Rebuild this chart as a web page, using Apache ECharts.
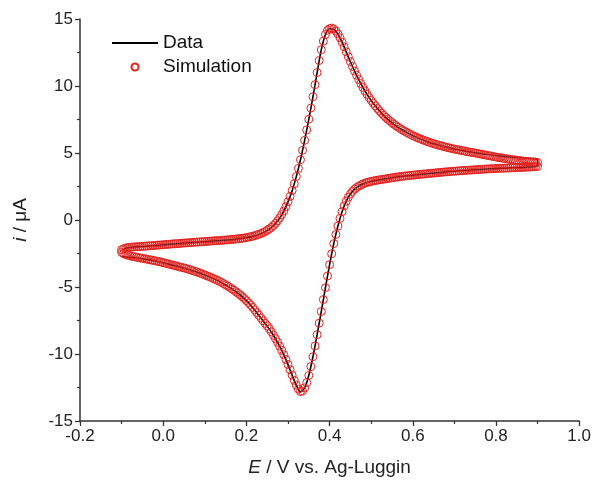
<!DOCTYPE html>
<html><head><meta charset="utf-8">
<script src="https://cdn.jsdelivr.net/npm/echarts@6/dist/echarts.min.js"></script>
<style>html,body{margin:0;padding:0;background:#fff}#c{width:594px;height:483px}</style>
</head><body><div id="c"></div>
<script>
// Potential grid of the simulated points (V vs. Ag-Luggin)
const simPotential = [
-0.1,-0.095,-0.09,-0.085,-0.08,-0.075,-0.07,-0.065,-0.06,-0.055,
-0.05,-0.045,-0.04,-0.035,-0.03,-0.025,-0.02,-0.015,-0.01,-0.005,
0,0.005,0.01,0.015,0.02,0.025,0.03,0.035,0.04,0.045,
0.05,0.055,0.06,0.065,0.07,0.075,0.08,0.085,0.09,0.095,
0.1,0.105,0.11,0.115,0.12,0.125,0.13,0.135,0.14,0.145,
0.15,0.155,0.16,0.165,0.17,0.175,0.18,0.185,0.19,0.195,
0.2,0.205,0.21,0.215,0.22,0.225,0.23,0.235,0.24,0.245,
0.25,0.255,0.26,0.265,0.27,0.275,0.28,0.285,0.29,0.295,
0.3,0.305,0.31,0.315,0.32,0.325,0.33,0.335,0.34,0.345,
0.35,0.355,0.36,0.365,0.37,0.375,0.38,0.385,0.39,0.395,
0.4,0.405,0.41,0.415,0.42,0.425,0.43,0.435,0.44,0.445,
0.45,0.455,0.46,0.465,0.47,0.475,0.48,0.485,0.49,0.495,
0.5,0.505,0.51,0.515,0.52,0.525,0.53,0.535,0.54,0.545,
0.55,0.555,0.56,0.565,0.57,0.575,0.58,0.585,0.59,0.595,
0.6,0.605,0.61,0.615,0.62,0.625,0.63,0.635,0.64,0.645,
0.65,0.655,0.66,0.665,0.67,0.675,0.68,0.685,0.69,0.695,
0.7,0.705,0.71,0.715,0.72,0.725,0.73,0.735,0.74,0.745,
0.75,0.755,0.76,0.765,0.77,0.775,0.78,0.785,0.79,0.795,
0.8,0.805,0.81,0.815,0.82,0.825,0.83,0.835,0.84,0.845,
0.85,0.855,0.86,0.865,0.87,0.875,0.88,0.885,0.89,0.895,
0.9];
// Simulation, forward (anodic) sweep, current in µA at each simPotential
const simForward = [
-2.22,-2.14,-2.09,-2.06,-2.04,-2.02,-2.01,-2.00,-1.99,-1.98,
-1.97,-1.96,-1.94,-1.93,-1.92,-1.91,-1.90,-1.88,-1.87,-1.86,
-1.85,-1.83,-1.82,-1.81,-1.79,-1.78,-1.77,-1.76,-1.75,-1.73,
-1.72,-1.71,-1.70,-1.69,-1.68,-1.66,-1.65,-1.64,-1.63,-1.62,
-1.61,-1.60,-1.58,-1.57,-1.56,-1.55,-1.54,-1.53,-1.52,-1.51,
-1.49,-1.48,-1.47,-1.45,-1.44,-1.42,-1.40,-1.38,-1.36,-1.34,
-1.31,-1.28,-1.25,-1.21,-1.17,-1.12,-1.07,-1.01,-0.94,-0.86,
-0.77,-0.67,-0.55,-0.41,-0.25,-0.06,0.15,0.40,0.68,1.00,
1.36,1.76,2.20,2.70,3.25,3.85,4.50,5.20,5.95,6.72,
7.52,8.35,9.20,10.10,11.00,11.90,12.70,13.35,13.85,14.15,
14.28,14.32,14.25,14.10,13.88,13.60,13.28,12.92,12.55,12.18,
11.82,11.46,11.12,10.80,10.48,10.18,9.90,9.63,9.38,9.14,
8.92,8.71,8.51,8.32,8.14,7.97,7.81,7.66,7.52,7.39,
7.26,7.14,7.03,6.92,6.82,6.72,6.63,6.54,6.46,6.38,
6.30,6.23,6.16,6.09,6.03,5.97,5.91,5.85,5.80,5.75,
5.70,5.65,5.60,5.56,5.52,5.48,5.44,5.40,5.36,5.33,
5.29,5.26,5.23,5.20,5.17,5.14,5.11,5.08,5.05,5.03,
5.00,4.97,4.94,4.91,4.88,4.85,4.82,4.79,4.76,4.73,
4.70,4.67,4.65,4.62,4.60,4.57,4.55,4.52,4.50,4.48,
4.46,4.44,4.42,4.40,4.38,4.36,4.35,4.33,4.32,4.30,
4.29];
// Simulation, reverse (cathodic) sweep, listed at ascending simPotential
const simReverse = [
-2.42,-2.51,-2.58,-2.63,-2.67,-2.71,-2.74,-2.77,-2.80,-2.83,
-2.86,-2.89,-2.92,-2.95,-2.98,-3.01,-3.04,-3.07,-3.11,-3.14,
-3.18,-3.22,-3.26,-3.30,-3.34,-3.38,-3.42,-3.46,-3.50,-3.54,
-3.58,-3.62,-3.67,-3.72,-3.77,-3.82,-3.87,-3.92,-3.98,-4.04,
-4.10,-4.16,-4.22,-4.29,-4.36,-4.43,-4.50,-4.58,-4.66,-4.75,
-4.84,-4.93,-5.03,-5.13,-5.24,-5.35,-5.47,-5.59,-5.72,-5.86,
-6.01,-6.17,-6.34,-6.52,-6.71,-6.91,-7.11,-7.31,-7.51,-7.71,
-7.91,-8.12,-8.35,-8.60,-8.86,-9.13,-9.42,-9.73,-10.06,-10.41,
-10.78,-11.17,-11.57,-11.96,-12.32,-12.62,-12.80,-12.76,-12.53,-12.14,
-11.60,-10.94,-10.20,-9.40,-8.56,-7.70,-6.83,-5.94,-5.05,-4.18,
-3.33,-2.52,-1.76,-1.08,-0.45,0.12,0.62,1.05,1.40,1.70,
1.94,2.14,2.30,2.42,2.52,2.61,2.68,2.75,2.80,2.84,
2.88,2.91,2.94,2.97,3.00,3.02,3.05,3.07,3.10,3.12,
3.15,3.17,3.20,3.22,3.24,3.26,3.28,3.30,3.31,3.33,
3.35,3.36,3.38,3.40,3.41,3.43,3.44,3.46,3.47,3.49,
3.50,3.52,3.53,3.55,3.56,3.58,3.59,3.60,3.62,3.63,
3.64,3.65,3.67,3.68,3.69,3.70,3.71,3.72,3.73,3.74,
3.75,3.76,3.77,3.78,3.79,3.80,3.81,3.82,3.83,3.83,
3.84,3.85,3.86,3.86,3.87,3.88,3.88,3.89,3.90,3.90,
3.91,3.92,3.92,3.93,3.94,3.94,3.95,3.96,3.97,3.98,
4.00];
// Measured data potential grid
const dataPotential = [
-0.1,-0.09,-0.08,-0.07,-0.06,-0.05,-0.04,-0.03,-0.02,-0.01,
0,0.01,0.02,0.03,0.04,0.05,0.06,0.07,0.08,0.09,
0.1,0.11,0.12,0.13,0.14,0.15,0.16,0.17,0.18,0.19,
0.2,0.21,0.22,0.23,0.24,0.25,0.26,0.27,0.28,0.29,
0.3,0.31,0.32,0.33,0.34,0.35,0.36,0.37,0.38,0.39,
0.4,0.41,0.42,0.43,0.44,0.45,0.46,0.47,0.48,0.49,
0.5,0.51,0.52,0.53,0.54,0.55,0.56,0.57,0.58,0.59,
0.6,0.61,0.62,0.63,0.64,0.65,0.66,0.67,0.68,0.69,
0.7,0.71,0.72,0.73,0.74,0.75,0.76,0.77,0.78,0.79,
0.8,0.81,0.82,0.83,0.84,0.85,0.86,0.87,0.88,0.89,
0.9];
const dataForward = [
-2.28,-2.10,-2.05,-2.02,-2.00,-1.98,-1.95,-1.93,-1.91,-1.88,
-1.86,-1.83,-1.80,-1.78,-1.76,-1.73,-1.71,-1.69,-1.66,-1.64,
-1.62,-1.59,-1.57,-1.55,-1.53,-1.50,-1.48,-1.45,-1.41,-1.37,
-1.32,-1.26,-1.18,-1.08,-0.95,-0.78,-0.56,-0.26,0.14,0.67,
1.35,2.19,3.24,4.49,5.94,7.51,9.19,10.99,12.69,13.84,
14.27,14.24,13.87,13.27,12.54,11.81,11.11,10.47,9.89,9.37,
8.91,8.50,8.13,7.80,7.51,7.25,7.02,6.81,6.62,6.45,
6.29,6.15,6.02,5.90,5.79,5.69,5.60,5.52,5.44,5.37,
5.30,5.24,5.18,5.12,5.07,5.02,4.98,4.93,4.89,4.85,
4.81,4.77,4.74,4.71,4.68,4.66,4.64,4.62,4.60,4.58,
4.57];
const dataReverse = [
-2.72,-2.76,-2.79,-2.82,-2.85,-2.89,-2.94,-2.99,-3.05,-3.12,
-3.19,-3.27,-3.35,-3.43,-3.51,-3.59,-3.68,-3.78,-3.88,-3.99,
-4.11,-4.23,-4.37,-4.51,-4.67,-4.85,-5.04,-5.25,-5.48,-5.73,
-6.02,-6.35,-6.72,-7.12,-7.52,-7.92,-8.36,-8.87,-9.43,-10.07,
-10.79,-11.58,-12.34,-12.82,-12.53,-11.60,-10.20,-8.56,-6.83,-5.05,
-3.33,-1.76,-0.45,0.62,1.40,1.94,2.30,2.52,2.68,2.80,
2.88,2.94,3.00,3.05,3.10,3.15,3.20,3.24,3.28,3.31,
3.35,3.38,3.41,3.44,3.47,3.50,3.53,3.56,3.59,3.62,
3.64,3.67,3.69,3.71,3.73,3.75,3.77,3.79,3.81,3.83,
3.84,3.86,3.87,3.88,3.90,3.91,3.92,3.94,3.95,3.97,
4.05];
const seriesNames = ['Data', 'Simulation'];
const xRange = [-0.2, 1.0];
const xStep = 0.2;
const yRange = [-15, 15];
const yStep = 5;

function cycle(pot, fwd, rev) {
  const pts = pot.map((e, k) => [e, fwd[k]]);
  for (let k = pot.length - 1; k >= 0; k--) pts.push([pot[k], rev[k]]);
  return pts;
}

const FONT = '"Liberation Sans", Arial, sans-serif';
const chart = echarts.init(document.getElementById('c'), null, {renderer: 'canvas'});
const axisCommon = {
  axisLine: {onZero: false, lineStyle: {color: '#333', width: 1.5}},
  axisTick: {show: true, length: 5, lineStyle: {color: '#333', width: 1.3}},
  minorTick: {show: true, splitNumber: 2, length: 3, lineStyle: {color: '#333', width: 1.2}},
  splitLine: {show: false},
  axisLabel: {fontFamily: FONT, fontSize: 17, color: '#222', margin: 7}
};
chart.setOption({
  animation: false,
  backgroundColor: '#fff',
  grid: {left: 80, right: 14, top: 19, bottom: 62},
  legend: {
    data: [
      {name: seriesNames[0], itemStyle: {opacity: 0}},
      {name: seriesNames[1]}
    ],
    orient: 'vertical',
    left: 106, top: 28,
    itemWidth: 46, itemHeight: 7, itemGap: 4,
    textStyle: {fontFamily: FONT, fontSize: 19, color: '#111', lineHeight: 20},
    selectedMode: false
  },
  xAxis: Object.assign({}, axisCommon, {
    type: 'value', min: xRange[0], max: xRange[1], interval: xStep,
    axisLabel: Object.assign({}, axisCommon.axisLabel, {formatter: v => v.toFixed(1)}),
    name: '{it|E} / V vs. Ag-Luggin',
    nameLocation: 'middle', nameGap: 37,
    nameTextStyle: {fontFamily: FONT, fontSize: 19, color: '#222',
      rich: {it: {fontFamily: FONT, fontSize: 19, fontStyle: 'italic', color: '#222'}}}
  }),
  yAxis: Object.assign({}, axisCommon, {
    type: 'value', min: yRange[0], max: yRange[1], interval: yStep,
    name: '{it|i} / \u03bcA',
    nameLocation: 'middle', nameGap: 50, nameRotate: 90,
    nameTextStyle: {fontFamily: FONT, fontSize: 19, color: '#222',
      rich: {it: {fontFamily: FONT, fontSize: 19, fontStyle: 'italic', color: '#222'}}}
  }),
  series: [
    {
      name: seriesNames[0], type: 'line', z: 2,
      data: cycle(dataPotential, dataForward, dataReverse),
      symbol: 'none', smooth: 0.3,
      lineStyle: {color: '#000', width: 1.6},
      itemStyle: {color: '#000'}
    },
    {
      name: seriesNames[1], type: 'scatter', z: 3,
      data: cycle(simPotential, simForward, simReverse),
      symbol: 'circle', symbolSize: 8,
      itemStyle: {color: 'rgba(0,0,0,0)', borderColor: '#e3231f', borderWidth: 1, opacity: 1}
    }
  ]
});
</script></body></html>
